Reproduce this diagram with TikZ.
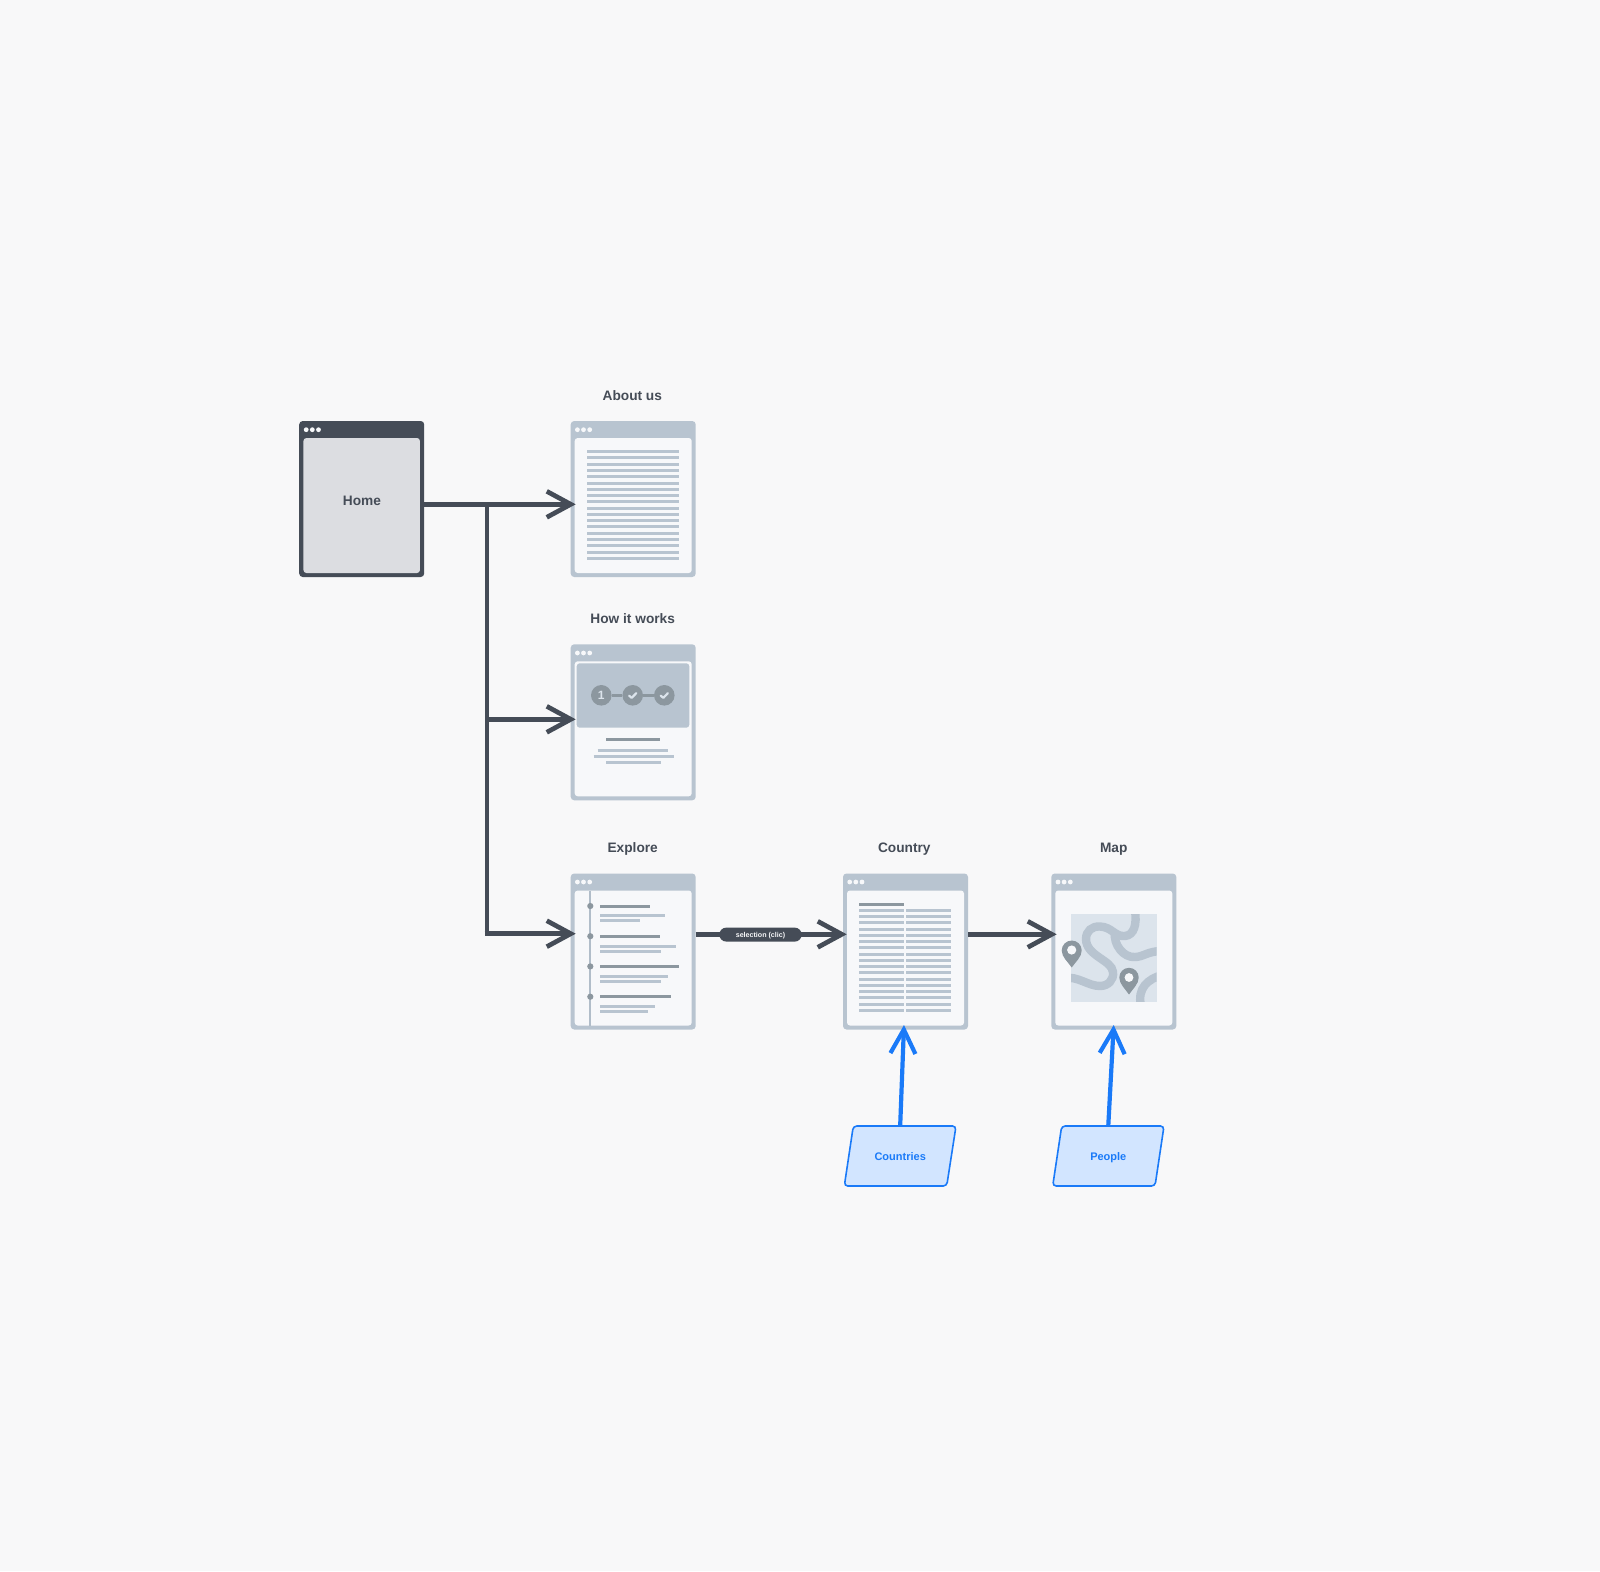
\documentclass[tikz,border=0pt]{standalone}
\usepackage{fontspec}
\setmainfont{Liberation Sans}
\usetikzlibrary{arrows.meta,calc}
\definecolor{pagebg}{HTML}{F8F8F9}
\definecolor{frameg}{HTML}{B8C4D0}
\definecolor{innerg}{HTML}{F7F8FA}
\definecolor{darkg}{HTML}{454C57}
\definecolor{homeg}{HTML}{DCDDE1}
\definecolor{lineg}{HTML}{8C979F}
\definecolor{maplt}{HTML}{DCE4EC}
\definecolor{blueb}{HTML}{1A7AF8}
\definecolor{bluef}{HTML}{D2E5FF}
\tikzset{
  x=1pt,y=-1pt,
  window/.style={rectangle,rounded corners=3.5pt,fill=frameg,draw=none,minimum width=125pt,minimum height=156pt,inner sep=0pt,outer sep=0pt},
  pane/.style={rectangle,rounded corners=3pt,fill=innerg,draw=none,minimum width=117pt,minimum height=135pt,inner sep=0pt,outer sep=0pt},
  title/.style={text=darkg,font=\fontsize{13.7}{16}\selectfont\bfseries,inner sep=0pt,anchor=base},
  flow/.style={draw=darkg,line width=4.7pt,-{Straight Barb[length=24pt,width=26pt,line width=4.7pt]}},
  trunk/.style={draw=darkg,line width=4.7pt},
  feed/.style={draw=blueb,line width=4.2pt,-{Straight Barb[length=24pt,width=25pt,line width=4.2pt]}},
  sourceshape/.style={rounded corners=3.5pt,draw=blueb,line width=1.6pt,fill=bluef},
  source/.style={rectangle,draw=none,minimum width=100pt,minimum height=60.7pt,inner sep=0pt,outer sep=0pt,text=blueb,font=\fontsize{11}{13}\selectfont\bfseries,text height=10pt,text depth=0pt},
  txt/.style={draw=frameg,line width=3pt},
  txtd/.style={draw=lineg,line width=3pt},
  dot/.style={circle,fill=innerg,draw=none,minimum size=4.8pt,inner sep=0pt},
  stepdisc/.style={circle,fill=lineg,draw=none,minimum size=20.6pt,inner sep=0pt,text=maplt,font=\fontsize{12}{13}\selectfont\bfseries},
  stepcheck/.style={maplt,line width=2.2pt,line cap=round,line join=round},
  river/.style={frameg,line width=8.4pt},
}
\newcommand{\windowdots}[3]{%
  \node[dot] (#1d1) at (#2+6.7,#3+8.7) {};
  \node[dot] (#1d2) at (#2+12.8,#3+8.7) {};
  \node[dot] (#1d3) at (#2+19,#3+8.7) {};
}
\begin{document}
\begin{tikzpicture}
\useasboundingbox[fill=pagebg] (0,0) rectangle (1600,1571);

% Home
\node[window,fill=darkg] (home) at (361.7,499) {};
\node[pane,fill=homeg,minimum width=116.5pt] (homepane) at (361.7,505.5) {};
\windowdots{home}{299.5}{421}
\node[title] (hometext) at (362,505.2) {Home};

% About
\node[title] (abouttitle) at (632.3,400.2) {About us};
\node[window] (about) at (633.2,499) {};
\node[pane] (aboutpane) at (633.2,505.5) {};
\windowdots{about}{570.7}{421}
\foreach \i in {0,...,17} \draw[txt] (587.3,451.7+6.27*\i) -- (679,451.7+6.27*\i);

% How it works
\node[title] (howtitle) at (632.7,623.3) {How it works};
\node[window] (how) at (633.2,722.3) {};
\node[pane] (howpane) at (633.2,728.8) {};
\windowdots{how}{570.7}{644.3}
\node[rectangle,rounded corners=3pt,fill=frameg,minimum width=112.6pt,minimum height=64.4pt,inner sep=0pt] (banner) at (633,695.5) {};
\node[stepdisc] (s1) at (601.3,695.3) {1};
\node[stepdisc] (s2) at (632.7,695.3) {};
\node[stepdisc] (s3) at (664.3,695.3) {};
\draw[lineg,line width=2.4pt] (s1) -- (s2);
\draw[lineg,line width=2.4pt] (s2) -- (s3);
\draw[stepcheck] ($(s2)+(-3.6,0.3)$) -- ($(s2)+(-1,2.6)$) -- ($(s2)+(3.6,-2.2)$);
\draw[stepcheck] ($(s3)+(-3.6,0.3)$) -- ($(s3)+(-1,2.6)$) -- ($(s3)+(3.6,-2.2)$);
\draw[txtd] (606,739.7) -- (660,739.7);
\draw[txt] (597.7,750) -- (668.3,750);
\draw[txt] (593.7,756) -- (673.7,756);
\draw[txt] (606,762.7) -- (661.3,762.7);

% Explore
\node[title] (exploretitle) at (632.7,852.7) {Explore};
\node[window] (explore) at (633.2,951.5) {};
\node[pane] (explorepane) at (633.2,958) {};
\windowdots{explore}{570.7}{873.3}
\draw[frameg!85!lineg,line width=1.9pt] (590.3,890.5) -- (590.3,1025.5);
\foreach \y in {906,936.2,966.4,996.7} \fill[lineg] (590.3,\y) circle[radius=3.1pt];
\draw[txtd] (600,906) -- (649.7,906);
\draw[txt] (600,915.7) -- (665.3,915.7);
\draw[txt] (600,920.7) -- (640.3,920.7);
\draw[txtd] (600,936.3) -- (660.3,936.3);
\draw[txt] (600,946) -- (675.7,946);
\draw[txt] (600,951) -- (661.3,951);
\draw[txtd] (600,966.7) -- (679,966.7);
\draw[txt] (600,976) -- (668.3,976);
\draw[txt] (600,981) -- (661.3,981);
\draw[txtd] (600,996.7) -- (670.7,996.7);
\draw[txt] (600,1006.3) -- (655,1006.3);
\draw[txt] (600,1011.7) -- (647.7,1011.7);

% Country
\node[title] (countrytitle) at (904.3,852.7) {Country};
\node[window] (country) at (905.5,951.5) {};
\node[pane] (countrypane) at (905.5,958) {};
\windowdots{country}{843}{873.3}
\draw[txtd] (859.3,904) -- (904,904);
\foreach \i in {0,...,16} {
  \draw[txt] (859.3,910.3+6.25*\i) -- (904,910.3+6.25*\i);
  \draw[txt] (906.3,910.3+6.25*\i) -- (951,910.3+6.25*\i);
}

% Map
\node[title] (maptitle) at (1113.7,852.7) {Map};
\node[window] (map) at (1113.8,951.5) {};
\node[pane] (mappane) at (1113.8,958) {};
\windowdots{map}{1051.3}{873.3}
\fill[maplt] (1071,914.3) rectangle (1156.7,1001.7);
\begin{scope}
\clip (1071,914.3) rectangle (1156.7,1001.7);
\draw[river] (1065,978) .. controls (1078,976) and (1088,986) .. (1100,986)
  .. controls (1108,986) and (1114,980) .. (1113,972)
  .. controls (1112,960) and (1086,956) .. (1086,939)
  .. controls (1086,931) and (1092,926) .. (1100,926.5)
  .. controls (1112,927) and (1115,937) .. (1125,936)
  .. controls (1134,935) and (1137,925) .. (1135,910);
\draw[river] (1115,932) .. controls (1113,945) and (1124,958) .. (1135,957)
  .. controls (1143,957) and (1148,951) .. (1162,951);
\draw[river] (1162,975) .. controls (1148,979) and (1137,988) .. (1141,1006);
\end{scope}
\fill[lineg] (1071.7,967.5) .. controls (1068,962) and (1061.7,957) .. (1061.7,950.5)
  arc[start angle=180,end angle=0,x radius=10,y radius=-10]
  .. controls (1081.7,957) and (1075.4,962) .. cycle;
\fill[innerg] (1071.7,950) circle[radius=4.6pt];
\fill[lineg] (1129,994.5) .. controls (1125.3,989) and (1119.3,984) .. (1119.3,977.5)
  arc[start angle=180,end angle=0,x radius=9.7,y radius=-9.7]
  .. controls (1138.7,984) and (1132.7,989) .. cycle;
\fill[innerg] (1129,977.5) circle[radius=4.4pt];

% Sources
\draw[sourceshape] (853.3,1126) -- (956,1126) -- (946.7,1186) -- (844.3,1186) -- cycle;
\node[source] (countries) at (900.2,1155.6) {Countries};
\draw[sourceshape] (1061.7,1126) -- (1164,1126) -- (1155,1186) -- (1052.7,1186) -- cycle;
\node[source] (people) at (1108.3,1155.6) {People};

% Connectors
\coordinate (branch) at (487,504.3);
\coordinate (howknee) at (487,719.3);
\coordinate (expknee) at (487,933.7);
\draw[trunk] ([yshift=-5.3pt]home.east) -- (branch);
\draw[flow] (branch) -- (575.7,504.3);
\draw[trunk,line join=miter] (branch) -- (expknee);
\draw[flow] (howknee) -- (575.7,719.3);
\draw[flow] ([xshift=-2.35pt]expknee) -- (575.7,933.7);
\draw[flow] ([yshift=17.2pt]explore.east) -- (846.7,934.3);
\draw[flow] ([yshift=17.2pt]country.east) -- (1056.7,934.3);
\node[rectangle,rounded corners=7pt,fill=darkg,minimum width=82.4pt,minimum height=14pt,inner sep=0pt,text=innerg,font=\fontsize{7.1}{9}\selectfont\bfseries,text height=5.6pt,text depth=0pt] (pill) at (760.5,934.6) {selection (clic)};
\draw[feed] (countries.north) -- (904,1025);
\draw[feed] (people.north) -- (1113.7,1025);
\end{tikzpicture}
\end{document}
